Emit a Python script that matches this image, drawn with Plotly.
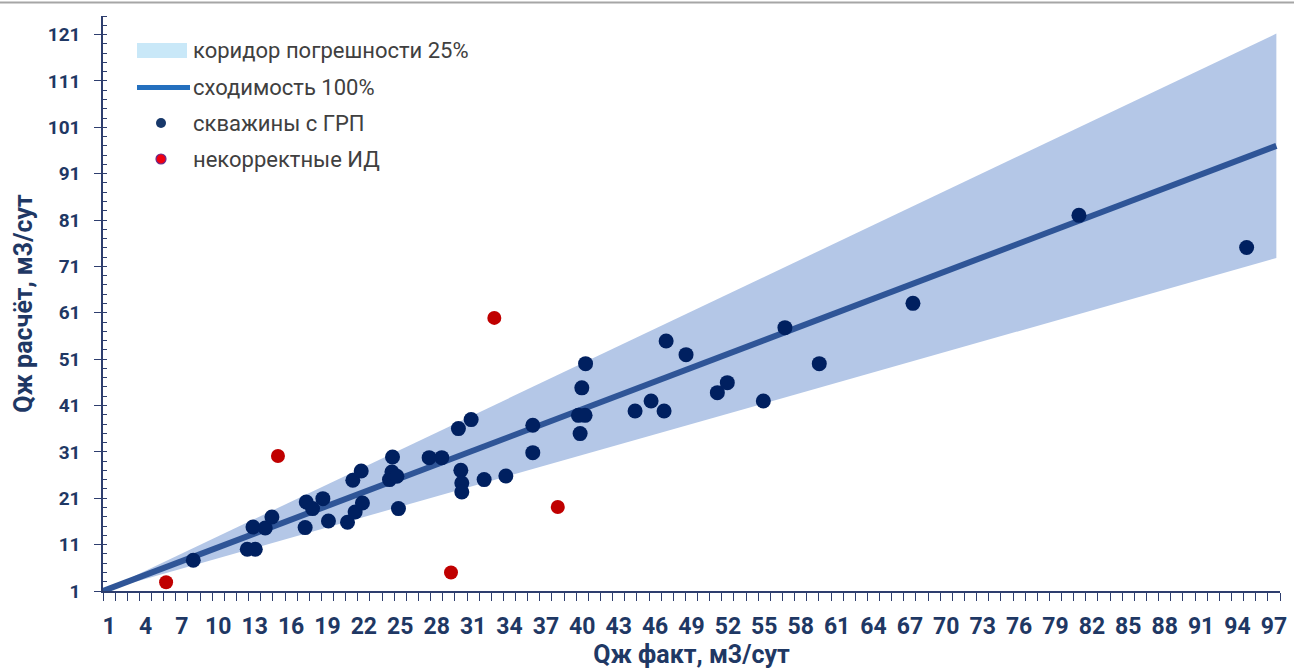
import plotly.graph_objects as go

# ---------------- data ----------------
grp_fact = [7.94, 12.39, 13.05, 12.86, 13.87, 14.42, 17.16, 17.25, 17.77, 18.62,
            19.08, 20.65, 21.28, 21.88, 21.09, 21.78, 24.11, 24.31, 24.36, 24.72,
            24.85, 27.38, 28.42, 29.79, 30.84, 29.99, 30.07, 30.07, 31.91, 33.70,
            35.92, 35.92, 40.27, 39.96, 39.68, 40.23, 39.82, 44.35, 45.67, 46.74,
            46.91, 48.55, 51.13, 51.95, 54.92, 56.70, 59.53, 67.25, 80.93, 94.75]
grp_calc = [7.62, 9.99, 9.99, 14.80, 14.58, 16.96, 14.67, 20.19, 18.77, 20.92,
            16.09, 15.81, 18.03, 19.97, 24.87, 26.87, 25.02, 26.66, 29.89, 25.73,
            18.77, 29.76, 29.76, 36.02, 37.96, 27.02, 24.29, 22.35, 25.02, 25.80,
            36.73, 30.84, 50.03, 44.81, 38.88, 38.88, 34.94, 39.81, 41.97, 39.81,
            54.90, 51.97, 43.78, 45.93, 41.97, 57.79, 50.03, 63.03, 82.01, 75.07]

bad_fact = [5.70, 14.92, 29.18, 32.75, 37.98]
bad_calc = [2.90, 30.10, 5.00, 59.90, 19.11]

corridor_x = [0.5, 97.2]
corridor_lower = [1.0, 72.8]
corridor_upper = [1.0, 121.2]
match_y = [1.0, 97.0]

x_tick_vals = list(range(1, 98, 3))
y_tick_vals = list(range(1, 122, 10))

legend_labels = ["коридор погрешности 25%", "сходимость 100%",
                 "скважины с ГРП", "некорректные ИД"]

# ---------------- styles ----------------
NAVY_TXT = "#1F3864"
AXIS_COL = "#2E3E6E"
BAND_COL = "#B4C7E7"
LINE_COL = "#2F5597"
PT_COL = "#002060"
RED_COL = "#C00000"
FONT = "Roboto, 'Open Sans', sans-serif"

W, H = 1294, 670
ML, MR, MT, MB = 103, 14, 16, 79
PW, PH = W - ML - MR, H - MT - MB


def px_x(p):
    return (p - ML) / PW


def px_y(p):
    return (H - MB - p) / PH


fig = go.Figure()

fig.add_trace(go.Scatter(x=corridor_x, y=corridor_lower, mode="lines",
                         line=dict(width=0, color=BAND_COL), showlegend=False,
                         hoverinfo="skip"))
fig.add_trace(go.Scatter(x=corridor_x, y=corridor_upper, mode="lines",
                         line=dict(width=0, color=BAND_COL), fill="tonexty",
                         fillcolor=BAND_COL, showlegend=False, hoverinfo="skip"))
fig.add_trace(go.Scatter(x=corridor_x, y=match_y, mode="lines",
                         line=dict(width=6, color=LINE_COL), showlegend=False))
fig.add_trace(go.Scatter(x=grp_fact, y=grp_calc, mode="markers",
                         marker=dict(size=15, color=PT_COL, line=dict(width=0)),
                         showlegend=False))
fig.add_trace(go.Scatter(x=bad_fact, y=bad_calc, mode="markers",
                         marker=dict(size=14, color=RED_COL, line=dict(width=0)),
                         showlegend=False))

fig.update_xaxes(
    automargin=False,
    range=[0.5, 97.5], tickmode="array", tickvals=x_tick_vals,
    ticktext=[str(v) for v in x_tick_vals], ticks="",
    ticklabelstandoff=14,
    minor=dict(tick0=0.5, dtick=1, ticks="outside", ticklen=8,
               tickcolor=AXIS_COL, tickwidth=1),
    showline=True, linecolor=AXIS_COL, linewidth=1.5, showgrid=False,
    zeroline=False, tickfont=dict(family=FONT, size=23, color=NAVY_TXT,
                                  weight="bold"),
    title=dict(text="Qж факт, м3/сут", standoff=2,
               font=dict(family=FONT, size=25, color=NAVY_TXT, weight="bold")),
)
fig.update_yaxes(
    automargin=False,
    range=[1, 125], tickmode="array", tickvals=y_tick_vals,
    ticks="outside", ticklen=7, tickcolor=AXIS_COL, tickwidth=1,
    ticklabelstandoff=10,
    minor=dict(tick0=1, dtick=2, ticks="inside", ticklen=4,
               tickcolor=AXIS_COL, tickwidth=1),
    showline=True, linecolor=AXIS_COL, linewidth=1.5, showgrid=False,
    zeroline=False, tickfont=dict(family=FONT, size=19, color=NAVY_TXT,
                                  weight="bold"),
    title=dict(text="Qж расчёт, м3/сут", standoff=8,
               font=dict(family=FONT, size=25, color=NAVY_TXT, weight="bold")),
)

shapes = []
# top gray border
shapes.append(dict(type="line", xref="paper", yref="paper",
                   x0=px_x(0), x1=px_x(W), y0=px_y(2.5), y1=px_y(2.5),
                   line=dict(color="#A6A6A6", width=2)))
# legend swatches
shapes.append(dict(type="rect", xref="paper", yref="paper",
                   x0=px_x(137), x1=px_x(187), y0=px_y(58), y1=px_y(43),
                   fillcolor="#C9E8F8", line=dict(width=0)))
shapes.append(dict(type="line", xref="paper", yref="paper",
                   x0=px_x(137), x1=px_x(190), y0=px_y(87.5), y1=px_y(87.5),
                   line=dict(color="#2470BE", width=5)))
r = 5
shapes.append(dict(type="circle", xref="paper", yref="paper",
                   x0=px_x(161 - r), x1=px_x(161 + r), y0=px_y(123 + r), y1=px_y(123 - r),
                   fillcolor="#17386A", line=dict(width=0)))
shapes.append(dict(type="circle", xref="paper", yref="paper",
                   x0=px_x(161 - r), x1=px_x(161 + r), y0=px_y(159 + r), y1=px_y(159 - r),
                   fillcolor="#F00010", line=dict(color="#6A2A8A", width=1.2)))

annotations = []
for label, yc in zip(legend_labels, [50, 87, 123, 159]):
    annotations.append(dict(xref="paper", yref="paper", x=px_x(191), y=px_y(yc),
                            text=label, showarrow=False, xanchor="left",
                            yanchor="middle",
                            font=dict(family=FONT, size=22, color="#404040")))

fig.update_layout(
    width=W, height=H, margin=dict(l=ML, r=MR, t=MT, b=MB),
    plot_bgcolor="white", paper_bgcolor="white",
    shapes=shapes, annotations=annotations, showlegend=False,
)

fig.write_html("out.html", config={"displayModeBar": False},
               post_script="document.body.style.margin='0';"
                           "document.body.style.overflow='hidden';")
